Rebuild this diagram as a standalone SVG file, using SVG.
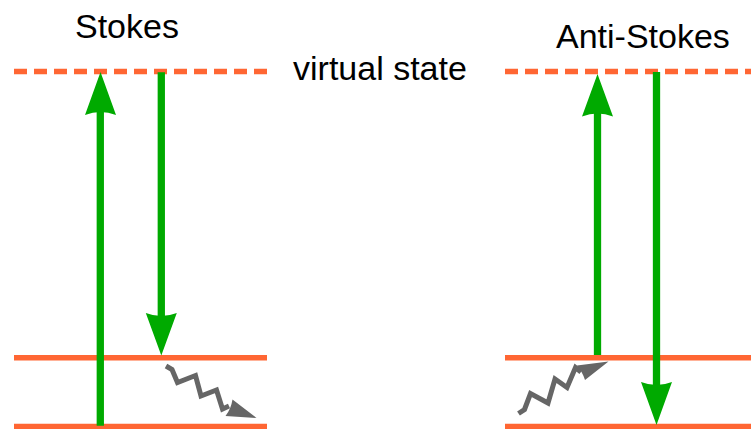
<svg xmlns="http://www.w3.org/2000/svg" width="751" height="429" viewBox="0 0 751 429">
  <style>
    .lvl { stroke: #ff6633; stroke-width: 5.5; fill: none; }
    .virt { stroke-dasharray: 13 7; }
    .shaft { stroke: #00aa00; stroke-width: 7.3; fill: none; }
    .head { fill: #00aa00; stroke: none; }
    .zig { stroke: #666666; stroke-width: 5; fill: none; stroke-linejoin: miter; }
    .zhead { fill: #666666; stroke: none; }
    .lbl { font-family: "Liberation Sans", Arial, sans-serif; font-size: 34px; fill: #000000; }
  </style>
  <rect width="751" height="429" fill="#ffffff"/>

  <g id="levels-stokes">
    <line class="lvl virt" x1="14" y1="71.5" x2="267" y2="71.5"/>
    <line class="lvl" x1="14" y1="357.8" x2="267" y2="357.8"/>
    <line class="lvl" x1="14" y1="426.5" x2="267" y2="426.5"/>
  </g>
  <g id="levels-antistokes">
    <line class="lvl virt" x1="505" y1="71.5" x2="751" y2="71.5"/>
    <line class="lvl" x1="505" y1="357.8" x2="751" y2="357.8"/>
    <line class="lvl" x1="505" y1="426.5" x2="751" y2="426.5"/>
  </g>

  <g id="label-stokes"><text class="lbl" x="75" y="37.5">Stokes</text></g>
  <g id="label-virtual"><text class="lbl" x="293" y="80">virtual state</text></g>
  <g id="label-antistokes"><text class="lbl" x="556" y="47.5">Anti-Stokes</text></g>

  <g id="connectors">
    <!-- Stokes: excitation up -->
    <line class="shaft" x1="100.3" y1="425.7" x2="100.3" y2="108"/>
    <path class="head" d="M100.5,72 L116,115 Q100.5,109 85,115 Z"/>
    <!-- Stokes: emission down -->
    <line class="shaft" x1="161.3" y1="72.3" x2="161.3" y2="320"/>
    <path class="head" d="M161.3,355.5 L176.8,313 Q161.3,319 145.8,313 Z"/>
    <!-- Anti-Stokes: excitation up -->
    <line class="shaft" x1="597.5" y1="355" x2="597.5" y2="110"/>
    <path class="head" d="M597.5,74 L613,116.5 Q597.5,110.5 582,116.5 Z"/>
    <!-- Anti-Stokes: emission down -->
    <line class="shaft" x1="656.5" y1="72" x2="656.5" y2="388"/>
    <path class="head" d="M656.5,425 L672,382 Q656.5,388 641,382 Z"/>

    <!-- Stokes: vibrational relaxation (zigzag) -->
    <polyline class="zig" points="166,366 172,369.5 177.5,382.5 195.5,375.5 201,396 216.5,390 222.5,409 229,406"/>
    <path class="zhead" d="M256.5,418 L232.5,399.5 Q231,409 225.5,416 Z"/>
    <!-- Anti-Stokes: vibrational (zigzag) -->
    <polyline class="zig" points="518.5,413.5 524.5,409.5 530.5,393.5 548,403 555,379 567,387.5 575.5,367.5 581,372"/>
    <path class="zhead" d="M608.5,361.5 L577,365.5 Q582.5,372 585,380 Z"/>
  </g>
</svg>
